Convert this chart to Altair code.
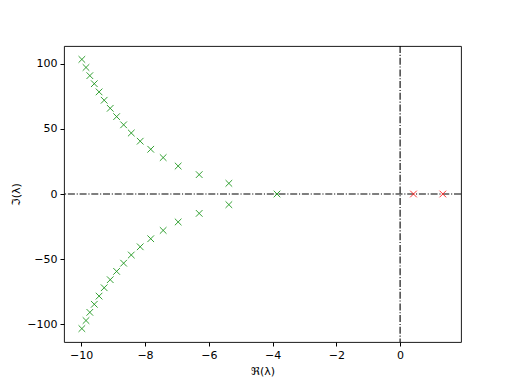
import altair as alt
import pandas as pd

# Stable (green) eigenvalues: real parts and positive imaginary parts (conjugate pairs)
green_re = [-9.98, -9.85, -9.73, -9.59, -9.44, -9.28, -9.09, -8.89, -8.67,
            -8.43, -8.15, -7.82, -7.43, -6.96, -6.30, -5.37]
green_im = [103.5, 97.3, 91.0, 84.8, 78.5, 72.1, 65.9, 59.5, 53.2,
            46.9, 40.6, 34.4, 28.0, 21.5, 14.9, 8.2]
real_green = [-3.86]
# Unstable (red) eigenvalues
red_re = [0.42, 1.34]
red_im = [0.0, 0.0]

rows = []
for r, i in zip(green_re, green_im):
    rows.append({"re": r, "im": i, "kind": "stable"})
    rows.append({"re": r, "im": -i, "kind": "stable"})
for r in real_green:
    rows.append({"re": r, "im": 0.0, "kind": "stable"})
for r, i in zip(red_re, red_im):
    rows.append({"re": r, "im": i, "kind": "unstable"})
df = pd.DataFrame(rows)

xdom = [-10.54, 1.91]
ydom = [-113.8, 113.8]

xscale = alt.Scale(domain=xdom, nice=False, zero=False)
yscale = alt.Scale(domain=ydom, nice=False, zero=False)

xaxis = alt.Axis(values=[-10, -8, -6, -4, -2, 0], format="d", grid=False,
                 tickSize=4, tickColor="black", domain=False, labelPadding=3,
                 labelFont="DejaVu Sans", labelFontSize=11, labelColor="black",
                 title="ℜ(λ)", titleFont="DejaVu Sans", titleFontSize=11,
                 titleFontWeight="normal", titleColor="black", titlePadding=5)
yaxis = alt.Axis(values=[-100, -50, 0, 50, 100], format="d", grid=False,
                 tickSize=4, tickColor="black", domain=False, labelPadding=3,
                 labelFont="DejaVu Sans", labelFontSize=11, labelColor="black",
                 title="ℑ(λ)", titleFont="DejaVu Sans", titleFontSize=11,
                 titleFontWeight="normal", titleColor="black", titlePadding=5)

xshape = "M-1,-1L1,1M1,-1L-1,1"

points = alt.Chart(df).mark_point(shape=xshape, filled=False, size=44,
                                  strokeWidth=0.9, opacity=1, clip=True).encode(
    x=alt.X("re:Q", scale=xscale, axis=xaxis),
    y=alt.Y("im:Q", scale=yscale, axis=yaxis),
    color=alt.Color("kind:N", scale=alt.Scale(domain=["stable", "unstable"],
                                              range=["#1e961e", "#ff2020"]),
                    legend=None),
)

zero_df = pd.DataFrame({"v": [0.0]})
hline = alt.Chart(zero_df).mark_rule(color="black", strokeWidth=1.1,
                                     strokeDash=[7, 1.8, 1.1, 1.8]).encode(
    y=alt.Y("v:Q", scale=yscale)
)
vline = alt.Chart(zero_df).mark_rule(color="black", strokeWidth=1.1,
                                     strokeDash=[7, 1.8, 1.1, 1.8]).encode(
    x=alt.X("v:Q", scale=xscale)
)

chart = alt.layer(hline, vline, points).properties(
    width=397, height=296,
    autosize=alt.AutoSizeParams(type="none"),
    padding={"left": 64, "top": 46, "right": 51, "bottom": 42},
    background="white",
).configure_view(stroke="black", strokeWidth=0.9)

chart.save("out.html", embed_options={"renderer": "svg", "actions": False})
